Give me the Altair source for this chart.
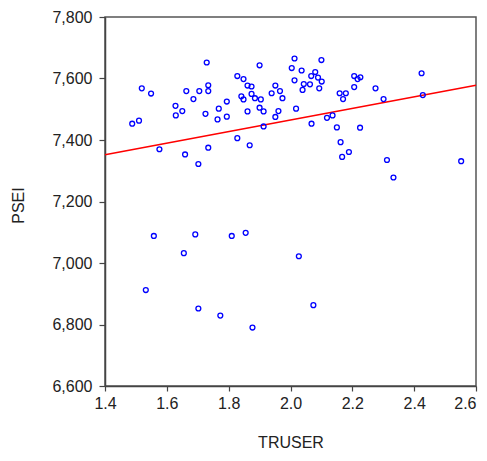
import altair as alt
import pandas as pd

truser = [1.488, 1.510, 1.519, 1.549, 1.576, 1.628, 1.629, 1.650, 1.663, 1.686,
          1.705, 1.729, 1.734, 1.734, 1.725, 1.659, 1.734, 1.702, 1.768, 1.764,
          1.794, 1.794, 1.900, 1.828, 1.848, 1.861, 1.874, 1.841, 1.848, 1.874,
          1.885, 1.904, 1.861, 1.900, 1.913, 1.913, 1.828, 1.868, 2.013, 2.004,
          2.036, 2.100, 2.013, 2.067, 2.080, 2.089, 2.101, 2.043, 2.063, 2.039,
          2.093, 1.951, 1.966, 1.939, 1.974, 1.961, 1.951, 2.018, 2.068, 2.118,
          2.136, 2.150, 2.159, 2.179, 2.170, 2.206, 2.217, 2.226, 2.206, 2.225,
          2.162, 2.189, 2.167, 2.275, 2.301, 2.424, 2.428, 2.312, 2.333, 2.552,
          1.558, 1.692, 1.810, 1.855, 1.655, 2.027, 1.532, 1.702, 1.773, 1.877,
          2.074]
psei = [7453, 7463, 7568, 7551, 7370, 7511, 7480, 7494, 7559, 7533,
        7559, 7652, 7578, 7559, 7485, 7353, 7375, 7322, 7502, 7467,
        7525, 7476, 7643, 7608, 7598, 7577, 7574, 7542, 7532, 7550,
        7536, 7532, 7493, 7505, 7493, 7444, 7406, 7383, 7665, 7634,
        7626, 7660, 7594, 7608, 7621, 7603, 7590, 7582, 7581, 7563,
        7568, 7577, 7559, 7552, 7536, 7494, 7475, 7502, 7453, 7472,
        7480, 7441, 7552, 7552, 7533, 7608, 7598, 7604, 7572, 7440,
        7393, 7361, 7345, 7568, 7533, 7617, 7546, 7335, 7278, 7331,
        7088, 7093, 7088, 7098, 7032, 7022, 6912, 6852, 6829, 6790,
        6863]

fit_x = [1.4, 2.6]
fit_y = [7352, 7578]

x_ticks = [1.4, 1.6, 1.8, 2.0, 2.2, 2.4, 2.6]
y_ticks = [6600, 6800, 7000, 7200, 7400, 7600, 7800]

pts = pd.DataFrame({"TRUSER": truser, "PSEI": psei})
fit = pd.DataFrame({"TRUSER": fit_x, "PSEI": fit_y})

FONT = "Liberation Sans"
TXT = "#222222"
AX = "#444444"

xscale = alt.Scale(domain=[1.4, 2.6], nice=False, zero=False)
yscale = alt.Scale(domain=[6600, 7800], nice=False, zero=False)

xaxis = alt.Axis(values=x_ticks, format=".1f", title="TRUSER", grid=False,
                 labelFont=FONT, labelFontSize=16, labelColor=TXT, labelPadding=4,
                 labelAlign=alt.ExprRef(expr="datum.value >= 2.55 ? 'right' : 'center'"),
                 tickSize=5, tickColor=AX, domainColor=AX, domainWidth=1.5, tickWidth=1.2,
                 titleFont=FONT, titleFontSize=16, titleFontWeight="normal", titleColor=TXT,
                 titleY=61, titleBaseline="alphabetic", labelFlush=False)
yaxis = alt.Axis(values=y_ticks, format=",.0f", title="PSEI", grid=False,
                 labelFont=FONT, labelFontSize=16, labelColor=TXT, labelPadding=7,
                 tickSize=6, tickColor=AX, domainColor=AX, domainWidth=1.5, tickWidth=1.2,
                 titleFont=FONT, titleFontSize=16, titleFontWeight="normal", titleColor=TXT,
                 titleX=-82, titleY=188, titleAngle=-90, titleBaseline="alphabetic",
                 titleAlign="center", labelFlush=False)

points = alt.Chart(pts).mark_point(shape="circle", filled=False, color="#0000FF",
                                   size=24, strokeWidth=1.3, opacity=1).encode(
    x=alt.X("TRUSER:Q", scale=xscale, axis=xaxis),
    y=alt.Y("PSEI:Q", scale=yscale, axis=yaxis),
)

line = alt.Chart(fit).mark_line(color="#FF0000", strokeWidth=1.5).encode(
    x=alt.X("TRUSER:Q", scale=xscale),
    y=alt.Y("PSEI:Q", scale=yscale),
)

chart = alt.layer(line, points).properties(
    width=371, height=369,
    autosize=alt.AutoSizeParams(type="none"),
    padding={"left": 97, "top": 9, "right": 3, "bottom": 66},
    background="white",
).configure_view(stroke="#555555", strokeWidth=1.5)

chart.save("out.html", embed_options={"renderer": "svg", "actions": False})
